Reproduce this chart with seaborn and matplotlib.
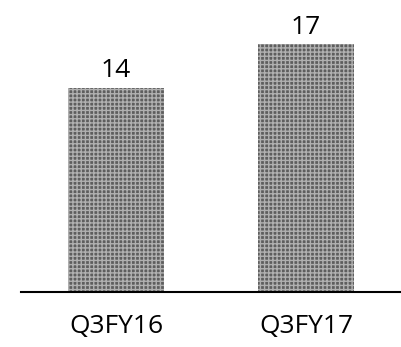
import seaborn as sns
import matplotlib.pyplot as plt
import pandas as pd

quarters = ["Q3FY16", "Q3FY17"]
values = [14, 17]

df = pd.DataFrame({"quarter": quarters, "value": values})

sns.set_style("white")
plt.rcParams["font.family"] = ["Open Sans", "DejaVu Sans"]
plt.rcParams["hatch.linewidth"] = 1.0
plt.rcParams["text.color"] = "black"
plt.rcParams["xtick.color"] = "black"

fig = plt.figure(figsize=(4.01, 3.47), dpi=100)
ax = fig.add_axes([21 / 401, 55 / 347, 380 / 401, 292 / 347])

sns.barplot(data=df, x="quarter", y="value", color="#5e5e5e", width=0.51,
            saturation=1, ax=ax)
for bar in ax.patches:
    bar.set_hatch("++++")
    bar.set_edgecolor("#b0b0b0")
    bar.set_linewidth(0)

for bar, v in zip(ax.patches, values):
    ax.annotate(str(v), (bar.get_x() + bar.get_width() / 2, bar.get_height()),
                xytext=(0, 3), textcoords="offset points",
                ha="center", va="bottom", fontsize=19, color="black")

ax.set_ylim(0, 20)
ax.set_xlim(-0.5, 1.5)
ax.set_xlabel("")
ax.set_ylabel("")
ax.set_yticks([])
ax.tick_params(axis="x", length=0, pad=16, labelsize=19, labelcolor="black")
sns.despine(ax=ax, left=True, right=True, top=True)
ax.spines["bottom"].set_color("black")
ax.spines["bottom"].set_linewidth(1.5)

fig.savefig("out.png", dpi=100)
